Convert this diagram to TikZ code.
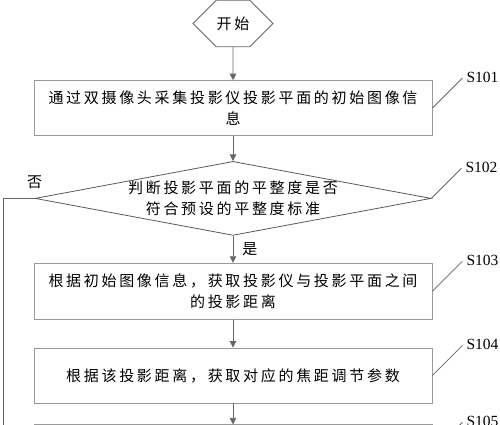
\documentclass[tikz,border=0pt]{standalone}
\usepackage{fontspec}
\setmainfont{Liberation Serif}
\newfontfamily\cjk[LetterSpace=18]{Noto Sans CJK SC}
\usetikzlibrary{arrows.meta, positioning, shapes.geometric, shapes.misc}

\begin{document}
\begin{tikzpicture}[
        x=1pt, y=-1pt,
        >={Triangle[length=6.5pt, width=6.5pt]},
        every node/.style={font=\cjk\fontsize{15}{21}\selectfont, inner sep=0pt},
        terminal/.style={chamfered rectangle, chamfered rectangle xsep=12pt, chamfered rectangle ysep=21pt, draw=black!60, line width=0.8pt, minimum width=80pt, minimum height=43pt},
        process/.style={rectangle, draw=black!40, line width=0.8pt, minimum width=398pt, minimum height=55pt, align=center},
        decision/.style={diamond, draw=black!65, line width=0.8pt, minimum width=396pt, minimum height=74pt},
        line/.style={draw=black!60, line width=0.8pt},
        tag/.style={font=\fontsize{15.5}{16}\selectfont}
    ]
        \useasboundingbox (0,0) rectangle (500,424);

        % Steps
        \node [terminal] (start) at (233,23.5) {开始};
        \node [process, below=33pt of start] (s101) {通过双摄像头采集投影仪投影平面的初始图像信\\息};
        \node [decision, below=25pt of s101] (s102) {};
        \node [align=center] (q102) at (s102) {判断投影平面的平整度是否\\符合预设的平整度标准};
        \node [process, below=27pt of s102, minimum height=56pt] (s103) {根据初始图像信息，获取投影仪与投影平面之间\\的投影距离};
        \node [process, below=28pt of s103] (s104) {根据该投影距离，获取对应的焦距调节参数};
        \node [process, below=21pt of s104] (s105) {};

        % Arrows
        \draw [line, ->] (start) -- (s101);
        \draw [line, ->] (s101) -- (s102);
        \draw [line, ->] (s102) -- node [right=9pt] (yes) {是} (s103);
        \draw [line, ->] (s103) -- (s104);
        \draw [line, ->] (s104) -- (s105);

        % No branch
        \coordinate (back) at (3,440);
        \draw [line] (s102.west) -| (back);
        \node [above=9pt of s102.west] (no) {否};

        % Step tags
        \foreach \n in {101,...,105} {
            \draw [line] (s\n.east) -- ++(30,-30) coordinate (c\n);
            \node [tag, anchor=west] (l\n) at ([shift={(4,-1)}]c\n) {S\n};
        }
    \end{tikzpicture}
\end{document}
